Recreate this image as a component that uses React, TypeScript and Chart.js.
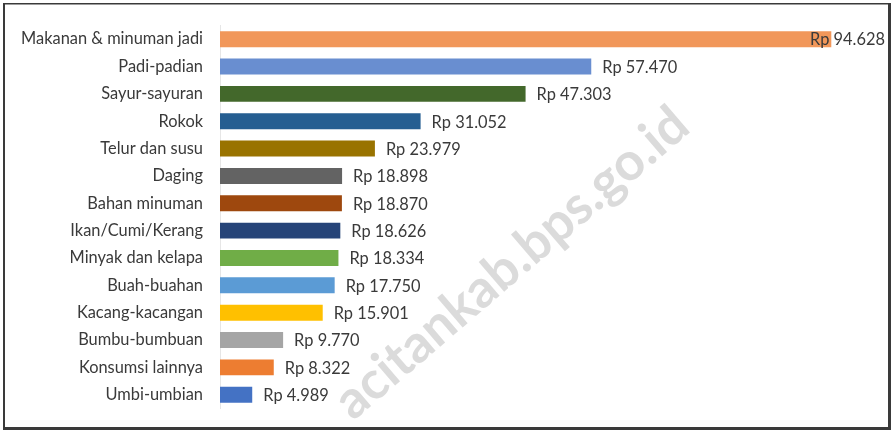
import React, { useEffect, useRef } from "react";
import { Chart, registerables } from "chart.js";

Chart.register(...registerables);

const categories = [
  "Makanan & minuman jadi",
  "Padi-padian",
  "Sayur-sayuran",
  "Rokok",
  "Telur dan susu",
  "Daging",
  "Bahan minuman",
  "Ikan/Cumi/Kerang",
  "Minyak dan kelapa",
  "Buah-buahan",
  "Kacang-kacangan",
  "Bumbu-bumbuan",
  "Konsumsi lainnya",
  "Umbi-umbian",
];

const values = [94628, 57470, 47303, 31052, 23979, 18898, 18870, 18626, 18334, 17750, 15901, 9770, 8322, 4989];

const barColors = [
  "#F1975A",
  "#698ED0",
  "#43682B",
  "#255E91",
  "#997300",
  "#636363",
  "#9E480E",
  "#264478",
  "#70AD47",
  "#5B9BD5",
  "#FFC000",
  "#A5A5A5",
  "#ED7D31",
  "#4472C4",
];

const watermarkText = "pacitankab.bps.go.id";
const FONT = "Lato, 'Open Sans', sans-serif";
const FONT_SIZE = 16.4;

function fmt(v: number): string {
  return "Rp " + String(v).replace(/\B(?=(\d{3})+(?!\d))/g, ".");
}

const framePlugin = {
  id: "frame",
  beforeDraw(chart: any) {
    const ctx = chart.ctx;
    ctx.save();
    ctx.fillStyle = "#ffffff";
    ctx.fillRect(0, 0, chart.width, chart.height);
    ctx.restore();
  },
  afterDraw(chart: any) {
    const ctx = chart.ctx;
    ctx.save();
    ctx.fillStyle = "#3a3a3a";
    ctx.fillRect(3, 3, 885, 1.5);
    ctx.fillRect(3, 3, 2, 425);
    ctx.fillRect(888, 3, 3, 427);
    ctx.fillRect(3, 427, 888, 3);
    ctx.restore();
  },
};

const watermarkPlugin = {
  id: "watermark",
  afterDatasetsDraw(chart: any) {
    const ctx = chart.ctx;
    ctx.save();
    // anchor: centre of the first fully visible letter ("a"), direction towards "d"
    const ax = 352, ay = 400, dx = 670, dy = 127;
    const ang = Math.atan2(dy - ay, dx - ax);
    const dist = Math.hypot(dx - ax, dy - ay);
    ctx.translate(ax, ay);
    ctx.rotate(ang);
    ctx.font = `bold 40px ${FONT}`;
    const rest = watermarkText.slice(1);
    const m = (s: string) => ctx.measureText(s).width;
    const span = m(rest) - m("a") / 2 - m("d") / 2;
    const size = (40 * dist) / span;
    ctx.font = `bold ${size}px ${FONT}`;
    const wp = m("p");
    const wa = m("a");
    // the leading letter falls outside the photographed crop in the reference
    ctx.beginPath();
    ctx.rect(-wa / 2 - 1, -200, 2000, 400);
    ctx.clip();
    ctx.fillStyle = "rgba(190,190,190,0.55)";
    ctx.textAlign = "left";
    ctx.textBaseline = "middle";
    ctx.fillText(watermarkText, -(wp + wa / 2), 0);
    ctx.restore();
  },
};

const valueLabelPlugin = {
  id: "valueLabels",
  afterDatasetsDraw(chart: any) {
    const ctx = chart.ctx;
    const meta = chart.getDatasetMeta(0);
    ctx.save();
    ctx.font = `${FONT_SIZE}px ${FONT}`;
    ctx.fillStyle = "#3a3a3a";
    ctx.textBaseline = "middle";
    ctx.textAlign = "left";
    meta.data.forEach((bar: any, i: number) => {
      const text = fmt(values[i]);
      const tw = ctx.measureText(text).width;
      let x = bar.x + 11;
      if (x + tw > 885) x = 885 - tw;
      ctx.fillText(text, x, bar.y + 1);
    });
    ctx.restore();
  },
};

export default function App() {
  const ref = useRef<HTMLCanvasElement | null>(null);
  useEffect(() => {
    document.body.style.margin = "0";
    if (!ref.current) return;
    const chart = new Chart(ref.current, {
      type: "bar",
      data: {
        labels: categories,
        datasets: [
          {
            data: values,
            backgroundColor: barColors,
            borderWidth: 0,
            barPercentage: 0.585,
            categoryPercentage: 1,
          },
        ],
      },
      options: {
        indexAxis: "y",
        animation: false,
        responsive: false,
        maintainAspectRatio: false,
        layout: { padding: { top: 25.5, bottom: 21.6, left: 0, right: 25 } },
        plugins: {
          legend: { display: false },
          tooltip: { enabled: false },
        },
        scales: {
          x: {
            display: false,
            min: 0,
            max: 100000,
          },
          y: {
            afterFit(scale: any) {
              scale.width = 220;
              scale.paddingTop = 0;
              scale.paddingBottom = 0;
            },
            grid: { display: false, drawTicks: false },
            border: { display: true, color: "#E6E6E6", width: 1 },
            ticks: {
              padding: 17,
              color: "#3a3a3a",
              font: { family: FONT, size: FONT_SIZE },
            },
          },
        },
      },
      plugins: [framePlugin, watermarkPlugin, valueLabelPlugin],
    });
    return () => chart.destroy();
  }, []);
  return (
    <div style={{ width: 891, height: 430 }}>
      <canvas ref={ref} width={891} height={430} style={{ display: "block" }} />
    </div>
  );
}
